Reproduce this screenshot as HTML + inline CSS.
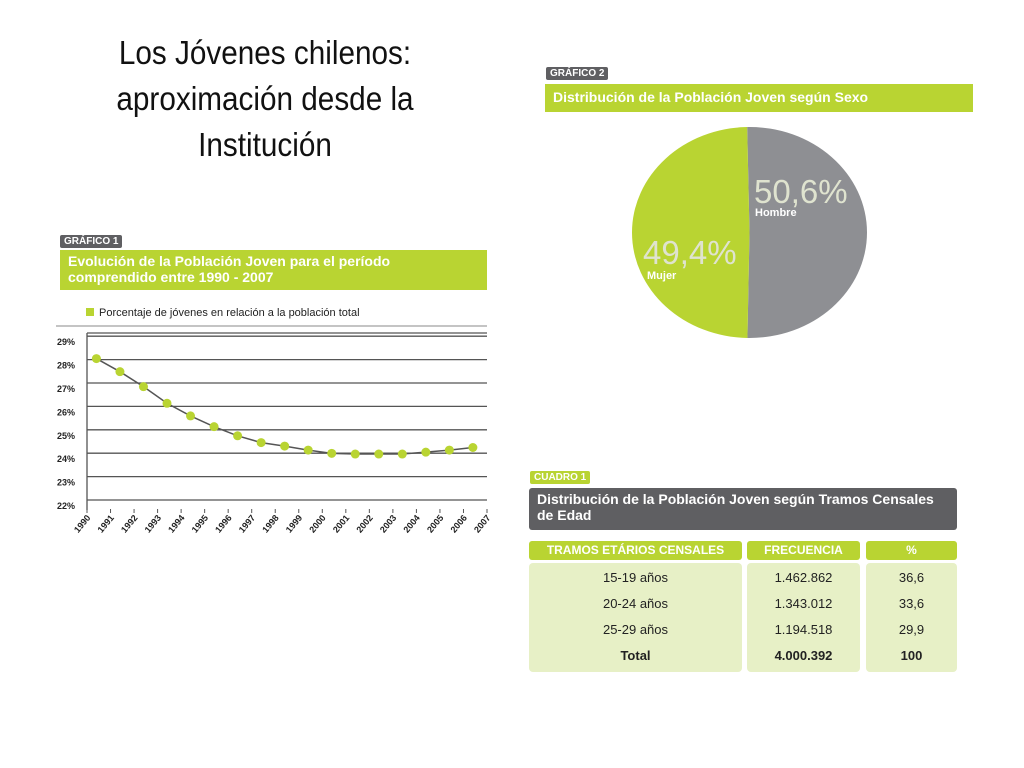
<!DOCTYPE html>
<html><head><meta charset="utf-8"><style>
body{margin:0;width:1024px;height:768px;background:#fff;font-family:"Liberation Sans",sans-serif;overflow:hidden;position:relative}
.t{position:absolute;left:60px;top:30px;width:410px;text-align:center;font-size:33px;line-height:46px;color:#111;transform:scaleX(.9)}
.tag{position:absolute;background:#5f5f62;color:#fff;font-size:10px;font-weight:bold;padding:1px 4px;border-radius:2px}
.bar{position:absolute;color:#fff;font-weight:bold;font-size:14px;box-sizing:border-box;padding:3px 8px;line-height:16px}
.cell{position:absolute;background:#e7f0c6;border-radius:4px}
.hd{position:absolute;background:#b9d432;color:#fff;font-weight:bold;font-size:12px;text-align:center;line-height:19px;border-radius:3px}
.v{position:absolute;font-size:13px;color:#222;text-align:center}
</style></head><body>
<div class="t">Los Jóvenes chilenos: aproximación desde la Institución</div>

<div class="tag" style="left:60px;top:235px">GRÁFICO 1</div>
<div class="bar" style="left:60px;top:250px;width:427px;height:40px;background:#b9d432">Evolución de la Población Joven para el período comprendido entre 1990 - 2007</div>
<svg style="position:absolute;left:0;top:0" width="1024" height="768" id="svg1"></svg>

<div class="tag" style="left:546px;top:67px">GRÁFICO 2</div>
<div class="bar" style="left:545px;top:84px;width:428px;height:28px;background:#b9d432;padding-top:5px">Distribución de la Población Joven según Sexo</div>

<div class="tag" style="left:530px;top:471px;background:#b9d432">CUADRO 1</div>
<div class="bar" style="left:529px;top:488px;width:428px;height:42px;background:#5f5f62;border-radius:3px">Distribución de la Población Joven según Tramos Censales de Edad</div>
<div class="hd" style="left:529px;top:541px;width:213px">TRAMOS ETÁRIOS CENSALES</div>
<div class="hd" style="left:747px;top:541px;width:113px">FRECUENCIA</div>
<div class="hd" style="left:866px;top:541px;width:91px">%</div>
<div class="cell" style="left:529px;top:563px;width:213px;height:109px"></div>
<div class="cell" style="left:747px;top:563px;width:113px;height:109px"></div>
<div class="cell" style="left:866px;top:563px;width:91px;height:109px"></div>
<div id="rows"></div>

<script>
const years=["1990","1991","1992","1993","1994","1995","1996","1997","1998","1999","2000","2001","2002","2003","2004","2005","2006","2007"];
const values=[28.3,27.74,27.1,26.39,25.85,25.39,25.0,24.71,24.56,24.39,24.25,24.22,24.22,24.22,24.3,24.39,24.5];
const yTicks=[22,23,24,25,26,27,28,29];
const yTickLabels=["22%","23%","24%","25%","26%","27%","28%","29%"];
const pieLabels=["Hombre","Mujer"];
const pieValues=[50.6,49.4];
const pieText=["50,6%","49,4%"];
const rowLabels=["15-19 años","20-24 años","25-29 años","Total"];
const rowFreq=["1.462.862","1.343.012","1.194.518","4.000.392"];
const rowPct=["36,6","33,6","29,9","100"];

const NS="http://www.w3.org/2000/svg";
const svg=document.getElementById('svg1');
function mk(t,a){const e=document.createElementNS(NS,t);for(const k in a)e.setAttribute(k,a[k]);svg.appendChild(e);return e;}
const X0=87,X1=487,Y22=506,PX=23.4;
const x=i=>X0+(X1-X0)*i/(years.length-1);
const y=v=>Y22-(v-22)*PX;

// legend
let e=mk('rect',{x:86,y:308,width:8,height:8,fill:'#b9d432'});

e=mk('text',{x:99,y:316,'font-size':11,fill:'#222'});e.textContent='Porcentaje de jóvenes en relación a la población total';

e=mk('line',{x1:56,x2:487,y1:326,y2:326,stroke:'#888','stroke-width':1});


yTicks.forEach((t,k)=>{
  const g=mk('line',{x1:X0,x2:X1,y1:y(t)-6,y2:y(t)-6,stroke:'#555','stroke-width':1.3});
  
  const l=mk('text',{x:57,y:y(t)+3,'font-size':9,'font-weight':'bold',fill:'#222'});l.textContent=yTickLabels[k];
  
});
e=mk('line',{x1:X0,x2:X1,y1:333,y2:333,stroke:'#555','stroke-width':1.3});

e=mk('line',{x1:X0,x2:X0,y1:333,y2:y(22)+4,stroke:'#555','stroke-width':1.3});

years.forEach((yr,i)=>{
  const tx=x(i);
  const tk=mk('line',{x1:tx,x2:tx,y1:y(22)+3,y2:y(22)+7,stroke:'#555'});
  
  const l=mk('text',{x:tx+4,y:y(22)+12,'font-size':9,'font-weight':'bold',fill:'#222','text-anchor':'end',transform:`rotate(-50 ${tx+4} ${y(22)+12})`});
  l.textContent=yr;
});
const px=i=>x(i+0.4);
let d=values.map((v,i)=>(i?'L':'M')+px(i)+' '+y(v)).join(' ');
e=mk('path',{d:d,fill:'none',stroke:'#555','stroke-width':1.5});

values.forEach((v,i)=>{
  const c=mk('circle',{cx:px(i),cy:y(v),r:4.5,fill:'#b9d432'});
  
});

// pie
const CX=749.5,CY=232.5,RX=117.5,RY=105.5;
const tot=pieValues.reduce((a,b)=>a+b,0);
const cols=['#8e8f93','#b9d432'];
let ang=-Math.PI/2-0.02;
pieValues.forEach((v,k)=>{
  const a2=ang+2*Math.PI*v/tot;
  const p1=[CX+RX*Math.cos(ang),CY+RY*Math.sin(ang)],p2=[CX+RX*Math.cos(a2),CY+RY*Math.sin(a2)];
  const s=mk('path',{d:`M${CX} ${CY} L${p1[0]} ${p1[1]} A${RX} ${RY} 0 ${v/tot>0.5?1:0} 1 ${p2[0]} ${p2[1]} Z`,fill:cols[k]});
  
  ang=a2;
});
const pos=[[754,203,755,216],[643,264,647,279]];
pieText.forEach((t,k)=>{
  const a=mk('text',{x:pos[k][0],y:pos[k][1],'font-size':33,fill:'#dfe3cf'});a.textContent=t;
  
  const b=mk('text',{x:pos[k][2],y:pos[k][3],'font-size':11,'font-weight':'bold',fill:'#fff'});b.textContent=pieLabels[k];
  
});

// table rows
const rows=document.getElementById('rows');
rowLabels.forEach((r,i)=>{
  const top=570+i*26, b=i==3?'bold':'normal';
  [[r,529,213,'row-label'],[rowFreq[i],747,113,'row-frecuencia'],[rowPct[i],866,91,'row-pct']].forEach(c=>{
    const dv=document.createElement('div');dv.className='v';
    dv.style.cssText=`left:${c[1]}px;top:${top}px;width:${c[2]}px;font-weight:${b}`;
    dv.textContent=c[0];
    
    
    rows.appendChild(dv);
  });
});
</script>
</body></html>
